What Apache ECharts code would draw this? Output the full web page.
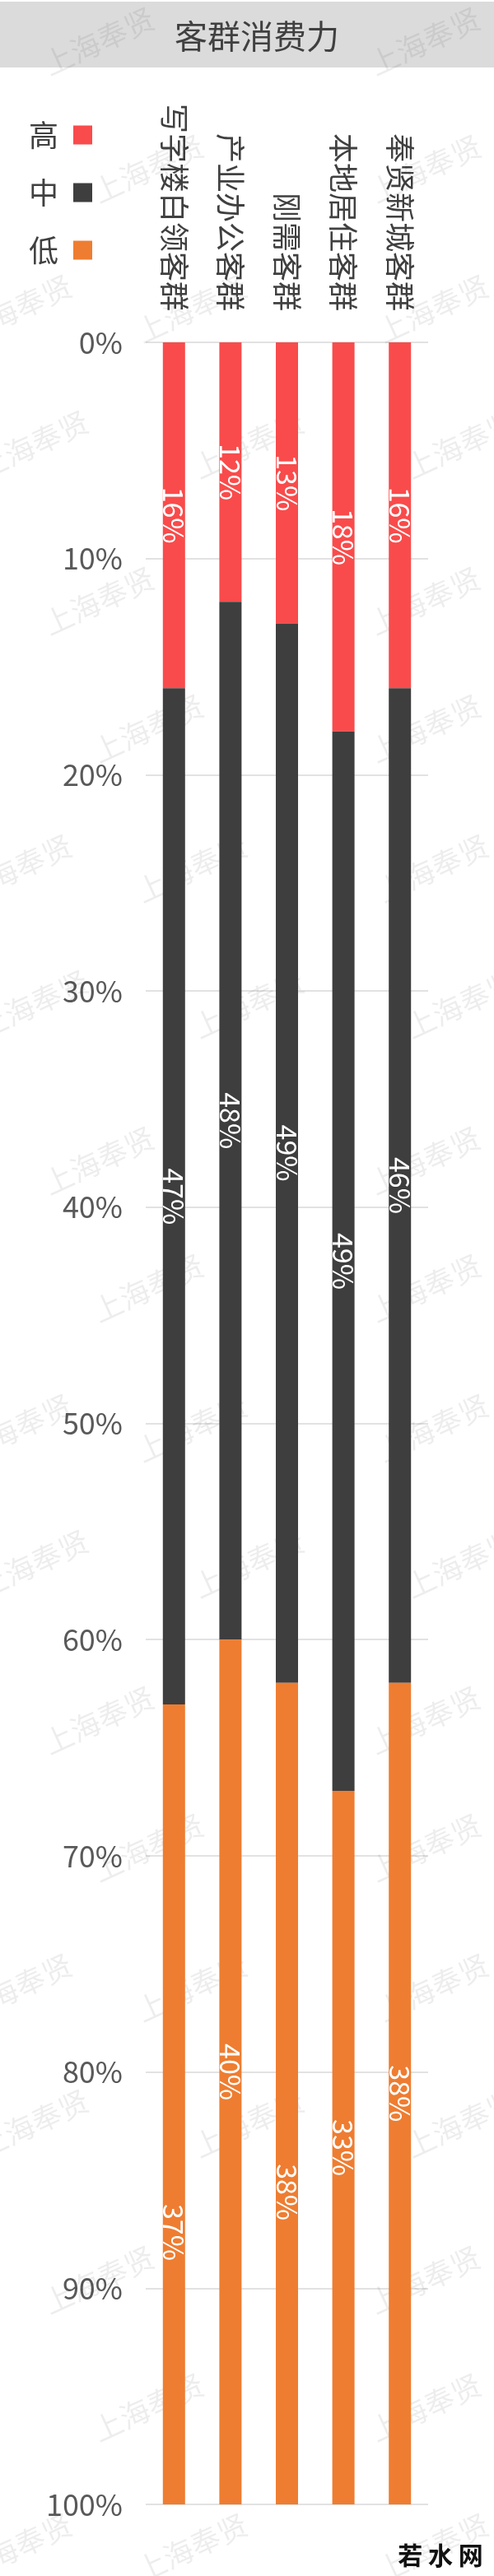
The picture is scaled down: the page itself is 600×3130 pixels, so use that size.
<!DOCTYPE html>
<html>
<head>
<meta charset="utf-8">
<script src="https://cdn.jsdelivr.net/npm/echarts@6/dist/echarts.min.js"></script>
<style>
html,body{margin:0;padding:0;background:#ffffff;}
#chart{width:600px;height:3130px;}
</style>
</head>
<body>
<div id="chart"></div>
<script>
// ---- data ----
var titleText = '客群消费力';
var categories = ['写字楼白领客群', '产业办公客群', '刚需客群', '本地居住客群', '奉贤新城客群'];
var seriesNames = ['高', '中', '低'];
var highValues = [16, 12, 13, 18, 16];
var midValues = [47, 48, 49, 49, 46];
var lowValues = [37, 40, 38, 33, 38];
var axisMin = 0, axisMax = 100, axisStep = 10;
var watermarkText = '上海奉贤';
var logoText = '若 水 网';

// ---- styles ----
var colors = ['#F94B4B', '#3E3E3E', '#EE7D31'];
var FONT = '"Noto Sans CJK SC", "Noto Sans", sans-serif';
// a few labels sit lower in their segment in the original (relative position within the bar)
var labelPlace = { '2-0': '66%', '2-2': '62%' };

function buildData(values, si) {
  return values.map(function (v, i) {
    var pos = labelPlace[si + '-' + i];
    if (pos) return { value: v, label: { position: ['50%', pos], align: 'center', verticalAlign: 'middle' } };
    return v;
  });
}

var allValues = [highValues, midValues, lowValues];
var series = seriesNames.map(function (name, si) {
  return {
    name: name,
    type: 'bar',
    stack: 'total',
    barWidth: 27,
    z: 3,
    itemStyle: { color: colors[si] },
    label: {
      show: true,
      position: 'inside',
      rotate: -90,
      color: '#ffffff',
      fontSize: 34,
      fontFamily: FONT,
      formatter: '{c}%'
    },
    labelLayout: { hideOverlap: false },
    data: buildData(allValues[si], si)
  };
});

// decorative watermark tiling (positions of the repeating stamp)
var wmRows = [
  { y: 50, xs: [120, 516] },
  { y: 205, xs: [180, 517] },
  { y: 375, xs: [20, 233, 526] },
  { y: 540, xs: [40, 302, 560] }
];
var graphics = [
  { type: 'rect', left: 0, top: 2, z: 0, shape: { width: 600, height: 80 }, style: { fill: '#DBDBDB' } }
];
for (var p = 0; p < 5; p++) {
  wmRows.forEach(function (r) {
    var yy = r.y + p * 680;
    if (yy > 3160) return;
    r.xs.forEach(function (xx) {
      graphics.push({
        type: 'text', x: xx, y: yy, rotation: 0.43, z: 1, silent: true,
        style: {
          text: watermarkText, x: 0, y: 0, align: 'center', verticalAlign: 'middle',
          fontSize: 36, fontFamily: FONT, fill: 'rgba(0,0,0,0.07)'
        }
      });
    });
  });
}
graphics.push({
  type: 'text', x: 535, y: 3105, z: 10,
  style: { text: logoText, x: 0, y: 0, align: 'center', verticalAlign: 'middle',
    fontSize: 30, fontWeight: 'bold', fontFamily: FONT, fill: '#111111' }
});

var chart = echarts.init(document.getElementById('chart'), null, { renderer: 'canvas' });
chart.setOption({
  backgroundColor: '#ffffff',
  animation: false,
  title: {
    text: titleText,
    left: 312, top: 44,
    textAlign: 'center', textVerticalAlign: 'middle',
    textStyle: { fontSize: 40, fontWeight: 'normal', color: '#404040', fontFamily: FONT },
    padding: 0, z: 5
  },
  graphic: graphics,
  legend: {
    orient: 'vertical',
    left: 30, top: 141,
    align: 'right',
    itemWidth: 23, itemHeight: 23,
    itemGap: 34,
    selectedMode: false,
    icon: 'rect',
    textStyle: { fontSize: 36, color: '#404040', fontFamily: FONT, padding: [0, 13, 0, 0] },
    data: seriesNames
  },
  grid: { left: 177, right: 80, top: 416, bottom: 87, containLabel: false },
  xAxis: {
    type: 'category',
    position: 'top',
    data: categories,
    axisLine: { show: false },
    axisTick: { show: false },
    axisLabel: { rotate: -90, interval: 0, fontSize: 36, color: '#404040', fontFamily: FONT, margin: 38 }
  },
  yAxis: {
    type: 'value',
    inverse: true,
    min: axisMin, max: axisMax, interval: axisStep,
    axisLine: { show: false },
    axisTick: { show: false },
    splitLine: { lineStyle: { color: '#D9D9D9', width: 1.5 } },
    axisLabel: { fontSize: 36, color: '#595959', fontFamily: FONT, margin: 28, formatter: '{value}%' }
  },
  series: series
});
</script>
</body>
</html>
